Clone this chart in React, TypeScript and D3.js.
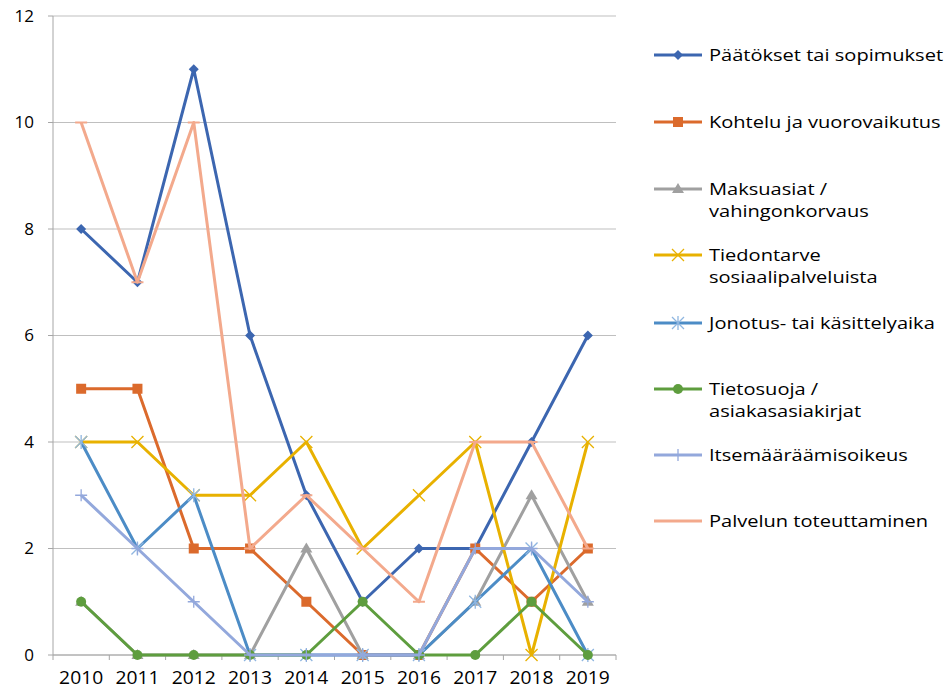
import React from "react";
import * as d3 from "d3";

const years = ["2010","2011","2012","2013","2014","2015","2016","2017","2018","2019"];
const yTicks = [0,2,4,6,8,10,12];

const paatokset = [8,7,11,6,3,1,2,2,4,6];
const kohtelu = [5,5,2,2,1,0,0,2,1,2];
const maksuasiat = [1,0,0,0,2,0,0,1,3,1];
const tiedontarve = [4,4,3,3,4,2,3,4,0,4];
const jonotus = [4,2,3,0,0,0,0,1,2,0];
const tietosuoja = [1,0,0,0,0,1,0,0,1,0];
const itsemaaraamis = [3,2,1,0,0,0,0,2,2,1];
const palvelun = [10,7,10,2,3,2,1,4,4,2];

const seriesNames = [
  ["Päätökset tai sopimukset"],
  ["Kohtelu ja vuorovaikutus"],
  ["Maksuasiat /", "vahingonkorvaus"],
  ["Tiedontarve", "sosiaalipalveluista"],
  ["Jonotus- tai käsittelyaika"],
  ["Tietosuoja /", "asiakasasiakirjat"],
  ["Itsemääräämisoikeus"],
  ["Palvelun toteuttaminen"],
];
const seriesValues = [paatokset, kohtelu, maksuasiat, tiedontarve, jonotus, tietosuoja, itsemaaraamis, palvelun];
const colors = ["#3C66B0","#DB6A2C","#A0A0A0","#E8B100","#4C8CC6","#5E9D3E","#93A8DC","#F3A98C"];
const markers = ["diamond","square","triangle","x","star","circle","plus","dash"];
const legendY = [55, 122, 189, 255, 323, 389, 455, 521];

function Marker({ type, x, y, color }: { type: string; x: number; y: number; color: string }) {
  switch (type) {
    case "diamond":
      return <path d={`M${x},${y-5}L${x+5},${y}L${x},${y+5}L${x-5},${y}Z`} fill={color} />;
    case "square":
      return <rect x={x-5} y={y-5} width={10} height={10} fill={color} />;
    case "triangle":
      return <path d={`M${x},${y-6}L${x+6},${y+4}L${x-6},${y+4}Z`} fill={color} />;
    case "circle":
      return <circle cx={x} cy={y} r={5} fill={color} />;
    case "x":
      return <path d={`M${x-6},${y-6}L${x+6},${y+6}M${x+6},${y-6}L${x-6},${y+6}`} stroke={color} strokeWidth={1.3} />;
    case "star":
      return <path d={`M${x-6},${y-6}L${x+6},${y+6}M${x+6},${y-6}L${x-6},${y+6}M${x},${y-7}L${x},${y+7}`} stroke="#8FB6E0" strokeWidth={1.3} />;
    case "plus":
      return <path d={`M${x-6},${y}L${x+6},${y}M${x},${y-6}L${x},${y+6}`} stroke={color} strokeWidth={1.3} />;
    case "dash":
      return <path d={`M${x-6},${y}L${x+6},${y}`} stroke={color} strokeWidth={2} />;
  }
  return null;
}

export default function App() {
  const W = 946, H = 688;
  const left = 53, right = 616, top = 16, bottom = 655;
  const x = d3.scaleBand().domain(years).range([left, right]);
  const y = d3.scaleLinear().domain([0, 12]).range([bottom, top]);
  const cx = (yr: string) => (x(yr) as number) + x.bandwidth() / 2;
  const line = d3.line<number>().x((_, i) => cx(years[i])).y((v) => y(v));
  const font = "'Open Sans', 'Noto Sans', sans-serif";
  const bounds = years.map((yr) => x(yr) as number).concat([right]);
  const lx = 709;
  return (
    <svg width={W} height={H} style={{ position: "absolute", left: 0, top: 0, background: "#fff" }} fontFamily={font}>
      {yTicks.map((t) => (
        <g key={t}>
          <line x1={left} x2={right} y1={y(t)} y2={y(t)} stroke="#BFBFBF" strokeWidth={1} />
          <line x1={left - 5} x2={left} y1={y(t)} y2={y(t)} stroke="#A6A6A6" strokeWidth={1} />
          <text x={34} y={y(t)} dy="0.35em" textAnchor="end" fontSize={17} fill="#000">{t}</text>
        </g>
      ))}
      <line x1={left} x2={left} y1={top} y2={bottom} stroke="#A6A6A6" strokeWidth={1} />
      <line x1={left} x2={right} y1={bottom} y2={bottom} stroke="#A6A6A6" strokeWidth={1} />
      {bounds.map((b, i) => (
        <line key={i} x1={b} x2={b} y1={bottom} y2={bottom + 5} stroke="#A6A6A6" strokeWidth={1} />
      ))}
      {years.map((yr) => (
        <text key={yr} x={cx(yr)} y={684} textAnchor="middle" fontSize={18} fill="#000"
          transform={`translate(${cx(yr)},0) scale(1.07,1) translate(${-cx(yr)},0)`}>{yr}</text>
      ))}
      {seriesValues.map((vals, si) => (
        <g key={si}>
          <path d={line(vals) as string} fill="none" stroke={colors[si]} strokeWidth={3} strokeLinejoin="round" />
          {vals.map((v, i) => (
            <Marker key={i} type={markers[si]} x={cx(years[i])} y={y(v)} color={colors[si]} />
          ))}
        </g>
      ))}
      {seriesNames.map((lines, si) => (
        <g key={si}>
          <line x1={654} x2={702} y1={legendY[si]} y2={legendY[si]} stroke={colors[si]} strokeWidth={3} />
          <Marker type={markers[si]} x={678} y={legendY[si]} color={colors[si]} />
          <g transform={`translate(${lx},0) scale(1.18,1)`}>
            {lines.map((t, li) => (
              <text key={li} x={0} y={legendY[si] + li * 22} dy="0.35em" fontSize={17} fill="#000">{t}</text>
            ))}
          </g>
        </g>
      ))}
    </svg>
  );
}
